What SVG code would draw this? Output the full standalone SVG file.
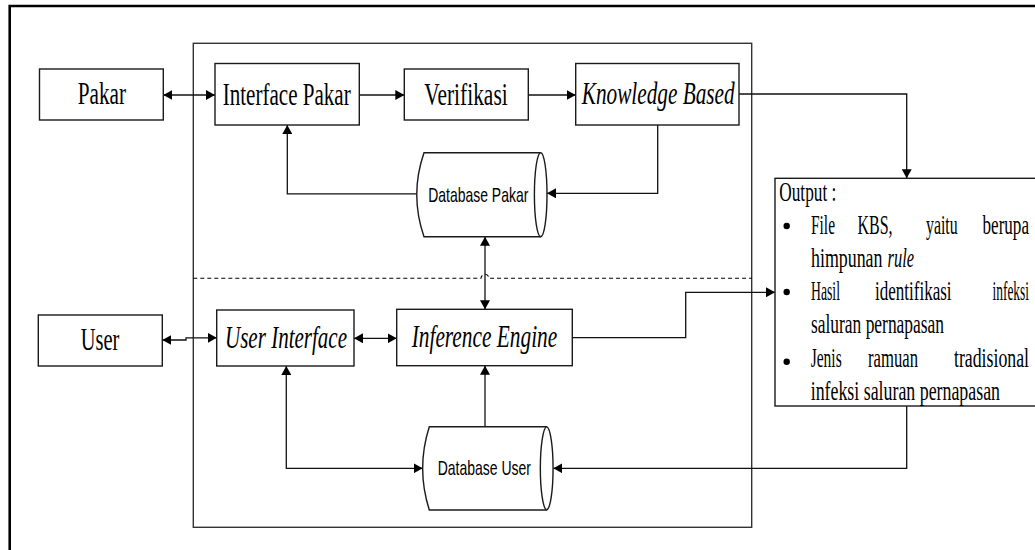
<svg xmlns="http://www.w3.org/2000/svg" width="1035" height="550" viewBox="0 0 1035 550">
  <style>
    .box { fill: #fff; stroke: #1a1a1a; stroke-width: 1.4; }
    .frame { fill: none; stroke: #000; stroke-width: 2.6; }
    .panel { fill: none; stroke: #333; stroke-width: 1.4; }
    .sep { fill: none; stroke: #000; stroke-width: 1.1; stroke-dasharray: 4 3; }
    .wire { fill: none; stroke: #111; stroke-width: 1.3; }
    .serif { font-family: "Liberation Serif", "Times New Roman", serif; fill: #000; }
    .sans { font-family: "Liberation Sans", Arial, sans-serif; fill: #000; }
    .lbl { font-size: 32px; }
    .out { font-size: 27px; }
    .db { font-size: 21px; }
    .it { font-style: italic; }
  </style>
  <defs>
    <marker id="arrow" viewBox="0 0 9 10" refX="9" refY="5" markerWidth="9" markerHeight="10" markerUnits="userSpaceOnUse" orient="auto-start-reverse">
      <path d="M0,0 L9,5 L0,10 z" fill="#000"/>
    </marker>
  </defs>

  <rect width="1035" height="550" fill="#fff"/>

  <!-- outer frame and system panel -->
  <path class="frame" d="M9.7,560 V6 H1045"/>
  <rect class="panel" x="193.3" y="43.3" width="558.4" height="484"/>
  <path class="sep" d="M193.3,278.3 H481 A4,4 0 0 1 489,278.3 H751.7"/>

  <!-- connectors -->
  <g id="connectors">
    <path class="wire" d="M163.3,95 H215" marker-start="url(#arrow)" marker-end="url(#arrow)"/>
    <path class="wire" d="M359.3,95 H404.3" marker-end="url(#arrow)"/>
    <path class="wire" d="M528.3,95 H575.7" marker-end="url(#arrow)"/>
    <path class="wire" d="M739,94 H906.7 V178.3" marker-end="url(#arrow)"/>
    <path class="wire" d="M657.7,125 V193.3 H547" marker-end="url(#arrow)"/>
    <path class="wire" d="M416.7,193.8 H287.3 V125" marker-end="url(#arrow)"/>
    <path class="wire" d="M485,236.7 V309.3" marker-start="url(#arrow)" marker-end="url(#arrow)"/>
    <path class="wire" d="M162.3,340 H186 V337.8 H216.7" marker-start="url(#arrow)" marker-end="url(#arrow)"/>
    <path class="wire" d="M354,338.3 H396.7" marker-start="url(#arrow)" marker-end="url(#arrow)"/>
    <path class="wire" d="M572.3,337.7 H685.7 V292.3 H775" marker-end="url(#arrow)"/>
    <path class="wire" d="M485,426.7 V365.7" marker-end="url(#arrow)"/>
    <path class="wire" d="M286.3,366 V468.3 H422.7" marker-start="url(#arrow)" marker-end="url(#arrow)"/>
    <path class="wire" d="M906.7,406 V468.3 H553.3" marker-end="url(#arrow)"/>
  </g>

  <!-- nodes -->
  <g id="pakar">
    <rect class="box" x="39.5" y="69" width="123.8" height="51"/>
    <text class="serif lbl" x="77.7" y="104" textLength="48.3" lengthAdjust="spacingAndGlyphs">Pakar</text>
  </g>
  <g id="interface-pakar">
    <rect class="box" x="215" y="63.5" width="144.3" height="61.5"/>
    <text class="serif lbl" x="222.7" y="105" textLength="128" lengthAdjust="spacingAndGlyphs">Interface Pakar</text>
  </g>
  <g id="verifikasi">
    <rect class="box" x="404.3" y="69" width="124" height="51"/>
    <text class="serif lbl" x="424.3" y="105" textLength="83.4" lengthAdjust="spacingAndGlyphs">Verifikasi</text>
  </g>
  <g id="knowledge-based">
    <rect class="box" x="575.7" y="63.5" width="163.3" height="61.5"/>
    <text class="serif lbl it" x="581.7" y="104" textLength="153" lengthAdjust="spacingAndGlyphs">Knowledge Based</text>
  </g>
  <g id="database-pakar">
    <path class="box" d="M424,152.7 H540.7 A6.3,42 0 0 1 540.7,236.7 H424 Q409.5,194.7 424,152.7 z"/>
    <path class="box" d="M540.7,152.7 A6.3,42 0 0 0 540.7,236.7" fill="none"/>
    <text class="sans db" x="428.3" y="201.7" textLength="100" lengthAdjust="spacingAndGlyphs">Database Pakar</text>
  </g>
  <g id="user">
    <rect class="box" x="38.3" y="315" width="124" height="51"/>
    <text class="serif lbl" x="80.7" y="350" textLength="38.6" lengthAdjust="spacingAndGlyphs">User</text>
  </g>
  <g id="user-interface">
    <rect class="box" x="216.7" y="310" width="137.3" height="56"/>
    <text class="serif lbl it" x="225" y="348" textLength="122" lengthAdjust="spacingAndGlyphs">User Interface</text>
  </g>
  <g id="inference-engine">
    <rect class="box" x="396.7" y="309.3" width="175.6" height="56.4"/>
    <text class="serif lbl it" x="411.7" y="346.7" textLength="145.5" lengthAdjust="spacingAndGlyphs">Inference Engine</text>
  </g>
  <g id="database-user">
    <path class="box" d="M429.3,426.7 H546.7 A6.7,41.7 0 0 1 546.7,510 H429.3 Q416,468.3 429.3,426.7 z"/>
    <path class="box" d="M546.7,426.7 A6.7,41.7 0 0 0 546.7,510" fill="none"/>
    <text class="sans db" x="437.7" y="475" textLength="93.3" lengthAdjust="spacingAndGlyphs">Database User</text>
  </g>
  <g id="output">
    <rect class="box" x="775" y="178.3" width="270" height="227.7"/>
    <text class="serif out" x="779.3" y="200.5" textLength="57" lengthAdjust="spacingAndGlyphs">Output :</text>
    <circle cx="786.7" cy="226" r="3.2" fill="#000"/>
    <text class="serif out" x="811" y="233.5" textLength="24" lengthAdjust="spacingAndGlyphs">File</text>
    <text class="serif out" x="857.5" y="233.5" textLength="35" lengthAdjust="spacingAndGlyphs">KBS,</text>
    <text class="serif out" x="926" y="233.5" textLength="31.7" lengthAdjust="spacingAndGlyphs">yaitu</text>
    <text class="serif out" x="982.5" y="233.5" textLength="46.5" lengthAdjust="spacingAndGlyphs">berupa</text>
    <text class="serif out" x="811" y="266.5"><tspan textLength="71.5" lengthAdjust="spacingAndGlyphs">himpunan</tspan><tspan class="it" x="887.5" textLength="26.5" lengthAdjust="spacingAndGlyphs">rule</tspan></text>
    <circle cx="786.7" cy="292" r="3.2" fill="#000"/>
    <text class="serif out" x="811" y="299.5" textLength="29" lengthAdjust="spacingAndGlyphs">Hasil</text>
    <text class="serif out" x="875" y="299.5" textLength="76.6" lengthAdjust="spacingAndGlyphs">identifikasi</text>
    <text class="serif out" x="992.5" y="299.5" textLength="36.5" lengthAdjust="spacingAndGlyphs">infeksi</text>
    <text class="serif out" x="811" y="333" textLength="133" lengthAdjust="spacingAndGlyphs">saluran pernapasan</text>
    <circle cx="786.7" cy="361.7" r="3.2" fill="#000"/>
    <text class="serif out" x="810.7" y="367" textLength="31" lengthAdjust="spacingAndGlyphs">Jenis</text>
    <text class="serif out" x="868" y="367" textLength="50" lengthAdjust="spacingAndGlyphs">ramuan</text>
    <text class="serif out" x="954" y="367" textLength="75" lengthAdjust="spacingAndGlyphs">tradisional</text>
    <text class="serif out" x="810.7" y="400" textLength="189.3" lengthAdjust="spacingAndGlyphs">infeksi saluran pernapasan</text>
  </g>
</svg>
